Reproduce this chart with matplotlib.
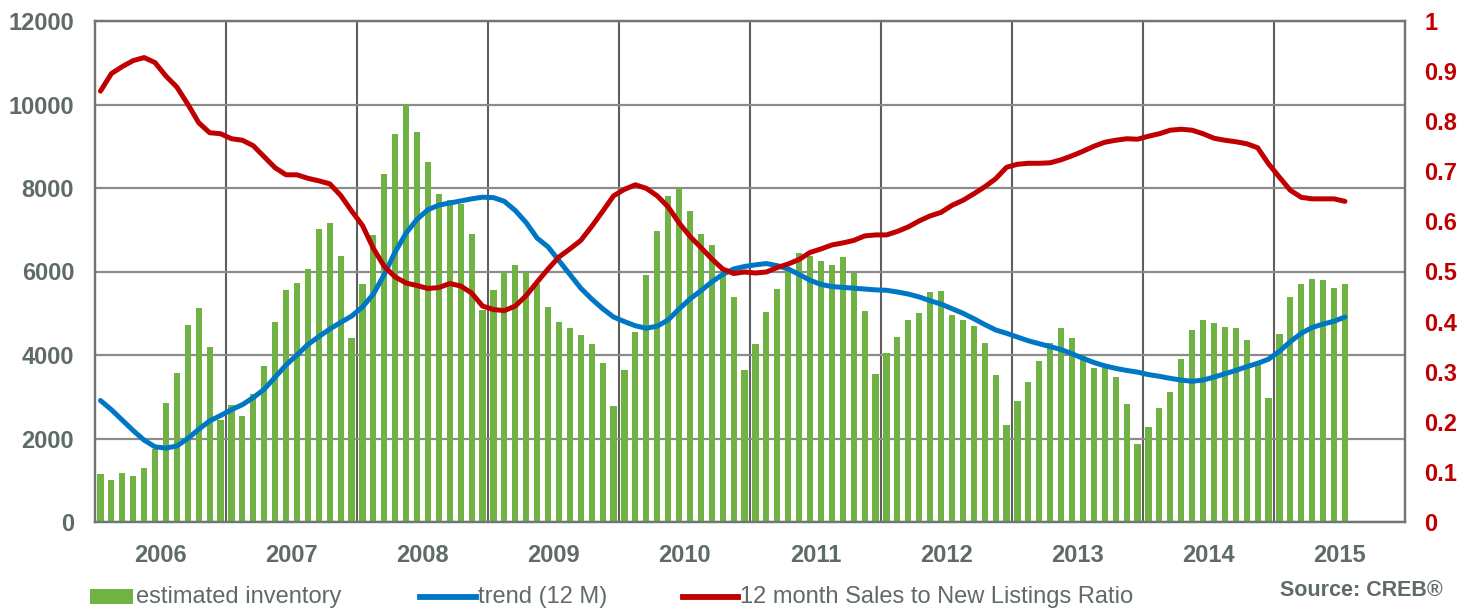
import numpy as np
import matplotlib
matplotlib.use("Agg")
import matplotlib.pyplot as plt
from matplotlib.patches import Rectangle
from matplotlib.lines import Line2D

plt.rcParams["font.family"] = ["Liberation Sans", "DejaVu Sans"]

# ── data (monthly, Jan 2006 .. Jul 2015) ─────────────────────────────
years = ["2006", "2007", "2008", "2009", "2010", "2011", "2012", "2013", "2014", "2015"]

inventory = [
    1140, 1000, 1170, 1100, 1290, 1740, 2850, 3570, 4720, 5130, 4180, 2450,
    2800, 2530, 3060, 3740, 4800, 5560, 5720, 6070, 7020, 7150, 6360, 4410,
    5700, 6880, 8340, 9300, 9990, 9350, 8620, 7860, 7710, 7610, 6900, 5070,
    5560, 6000, 6160, 6000, 5690, 5150, 4780, 4640, 4490, 4270, 3820, 2780,
    3630, 4540, 5920, 6960, 7800, 7990, 7440, 6890, 6630, 6050, 5380, 3630,
    4270, 5030, 5580, 6100, 6450, 6380, 6240, 6160, 6350, 5970, 5060, 3550,
    4040, 4440, 4830, 5010, 5520, 5540, 4950, 4840, 4700, 4290, 3530, 2320,
    2890, 3350, 3860, 4290, 4640, 4410, 4000, 3690, 3690, 3470, 2830, 1870,
    2280, 2730, 3120, 3910, 4600, 4830, 4760, 4680, 4640, 4370, 3750, 2970,
    4500, 5380, 5700, 5830, 5800, 5610, 5690,
]

trend = [
    2910, 2690, 2440, 2190, 1960, 1800, 1770, 1820, 2000, 2220, 2420, 2550,
    2690, 2810, 2980, 3180, 3470, 3760, 4000, 4250, 4440, 4620, 4780, 4930,
    5150, 5460, 5930, 6470, 6920, 7250, 7480, 7590, 7640, 7690, 7740, 7780,
    7770, 7680, 7460, 7170, 6800, 6590, 6260, 5930, 5600, 5340, 5110, 4910,
    4800, 4700, 4640, 4690, 4840, 5100, 5340, 5540, 5750, 5930, 6060, 6120,
    6160, 6190, 6140, 6060, 5930, 5790, 5690, 5640, 5620, 5600, 5580, 5560,
    5550, 5510, 5460, 5390, 5300, 5220, 5110, 5000, 4870, 4730, 4600, 4520,
    4430, 4340, 4270, 4200, 4130, 4030, 3920, 3820, 3740, 3680, 3630, 3590,
    3530, 3490, 3440, 3400, 3370, 3400, 3470, 3550, 3630, 3720, 3800, 3900,
    4090, 4320, 4520, 4660, 4740, 4810, 4910,
]

ratio = [
    0.860, 0.895, 0.909, 0.921, 0.927, 0.917, 0.890, 0.868, 0.834, 0.797, 0.777, 0.775,
    0.765, 0.762, 0.751, 0.729, 0.707, 0.693, 0.693, 0.686, 0.681, 0.675, 0.652, 0.621,
    0.592, 0.546, 0.510, 0.489, 0.477, 0.472, 0.466, 0.468, 0.476, 0.471, 0.457, 0.431,
    0.424, 0.422, 0.431, 0.452, 0.479, 0.505, 0.529, 0.545, 0.562, 0.590, 0.620, 0.651,
    0.664, 0.673, 0.666, 0.651, 0.629, 0.597, 0.570, 0.548, 0.525, 0.505, 0.496, 0.499,
    0.497, 0.499, 0.508, 0.515, 0.524, 0.538, 0.545, 0.553, 0.557, 0.562, 0.571, 0.573,
    0.573, 0.580, 0.589, 0.601, 0.611, 0.618, 0.632, 0.642, 0.655, 0.669, 0.685, 0.708,
    0.714, 0.716, 0.716, 0.717, 0.723, 0.731, 0.740, 0.750, 0.758, 0.762, 0.765, 0.764,
    0.770, 0.775, 0.782, 0.784, 0.782, 0.775, 0.766, 0.762, 0.759, 0.755, 0.747, 0.715,
    0.688, 0.662, 0.648, 0.645, 0.645, 0.645, 0.640,
]

# ── styling ──────────────────────────────────────────────────────────
GREEN = "#70b244"
BLUE = "#0077c4"
RED = "#c00000"
TXT = "#5f6b66"
W, H = 1472, 608

fig = plt.figure(figsize=(W / 100, H / 100), dpi=100)
ax = fig.add_axes([95 / W, 1 - 522 / H, 1310 / W, 501 / H])
ax2 = ax.twinx()

x = np.arange(len(inventory))
ax.bar(x, inventory, width=0.56, color=GREEN, linewidth=0, zorder=2)
ax.plot(x, trend, color=BLUE, lw=3.6, solid_capstyle="round", zorder=3)
ax2.plot(x, ratio, color=RED, lw=3.6, solid_capstyle="round", zorder=4)

n_slots = 12 * len(years)
ax.set_xlim(-0.5, n_slots - 0.5)
ax.set_ylim(0, 12000)
ax2.set_ylim(0, 1)

ax.set_yticks(np.arange(0, 12001, 2000))
ax2.set_yticks(np.arange(0, 1.01, 0.1))
ax2.set_yticklabels(["0"] + [f"{v:.1f}" for v in np.arange(0.1, 1.0, 0.1)] + ["1"])

# year labels centred, gridlines on year boundaries
ax.set_xticks(np.arange(len(years)) * 12 + 5.5)
ax.set_xticklabels(years)
ax.set_xticks(np.arange(1, len(years)) * 12 - 0.5, minor=True)

ax.grid(axis="y", which="major", color="#8c8c8c", lw=1.6, zorder=0)
ax.grid(axis="x", which="minor", color="#5e5e5e", lw=1.5, zorder=0)
ax.set_axisbelow(True)

ax.tick_params(axis="both", which="both", length=0)
ax.tick_params(axis="y", pad=15, labelsize=17, labelcolor=TXT)
ax.tick_params(axis="x", pad=16, labelsize=17, labelcolor=TXT)
ax2.tick_params(axis="y", length=0, pad=14, labelsize=17, labelcolor=RED)
for lab in ax.get_xticklabels() + ax.get_yticklabels() + ax2.get_yticklabels():
    lab.set_fontweight("bold")

for a in (ax, ax2):
    for s in a.spines.values():
        s.set_color("#6e7773")
        s.set_linewidth(1.6)

# legend, placed by hand in figure pixels
ly = 1 - 597 / H
fig.add_artist(Rectangle((90 / W, 1 - 604 / H), 43 / W, 15 / H,
                         transform=fig.transFigure, facecolor=GREEN, edgecolor="none"))
fig.add_artist(Line2D([420 / W, 476 / W], [ly, ly], transform=fig.transFigure,
                      color=BLUE, lw=4.2))
fig.add_artist(Line2D([683 / W, 738 / W], [ly, ly], transform=fig.transFigure,
                      color=RED, lw=4.2))
for px, txt in [(136, "estimated inventory"), (478, "trend (12 M)"),
                (740, "12 month Sales to New Listings Ratio")]:
    fig.text(px / W, ly, txt, ha="left", va="center", fontsize=17, color=TXT)

fig.text(1443 / W, 1 - 590 / H, "Source: CREB\u00ae", ha="right", va="center",
         fontsize=15.5, fontweight="bold", color=TXT)

fig.savefig("out.png", dpi=100)
